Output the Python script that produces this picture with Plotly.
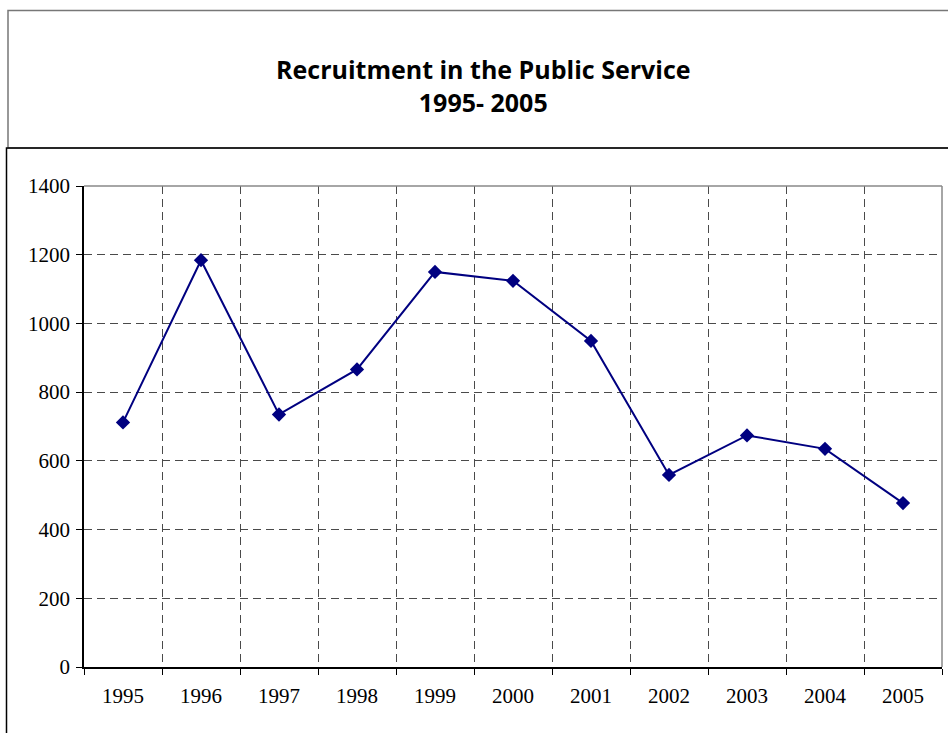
import plotly.graph_objects as go

# Recruitment figures, 1995-2005
years = ["1995", "1996", "1997", "1998", "1999", "2000",
         "2001", "2002", "2003", "2004", "2005"]
recruits = [712, 1184, 735, 866, 1150, 1124, 949, 559, 674, 635, 477]
y_ticks = [0, 200, 400, 600, 800, 1000, 1200, 1400]

W, H = 948, 733
L, R, T, B = 84, 6, 186, 66
PW, PH = W - L - R, H - T - B


def px(x):
    return (x - L) / PW


def py(y):
    return 1 - (y - T) / PH


fig = go.Figure(go.Scatter(
    x=years, y=recruits, mode="lines+markers",
    line=dict(color="#000080", width=2),
    marker=dict(symbol="diamond", size=11, color="#000080"),
    showlegend=False,
))

serif = "Liberation Serif"
grid = dict(showgrid=True, gridcolor="#4a4a4a", gridwidth=1, griddash="8px,5px")

fig.update_xaxes(
    type="category", range=[-0.5, len(years) - 0.5],
    tickson="boundaries", ticks="outside", ticklen=6,
    tickcolor="#000", showline=True, linecolor="#000", linewidth=1.5,
    tickfont=dict(family=serif, size=21, color="#000"),
    ticklabelstandoff=9, **grid,
)
fig.update_yaxes(
    range=[0, 1400], tickvals=y_ticks, ticks="outside", ticklen=6,
    tickcolor="#000", showline=True, linecolor="#000", linewidth=1.5,
    zeroline=False, tickfont=dict(family=serif, size=21, color="#000"),
    ticklabelstandoff=2, **grid,
)

shapes = [
    # title frame
    dict(type="rect", xref="paper", yref="paper",
         x0=px(8), x1=px(952), y0=py(148), y1=py(10.5),
         line=dict(color="#777777", width=1.5)),
    # chart frame
    dict(type="rect", xref="paper", yref="paper",
         x0=px(6.5), x1=px(952), y0=py(740), y1=py(148),
         line=dict(color="#000000", width=1.5)),
    # plot area top and right edges
    dict(type="line", xref="paper", yref="paper", x0=0, x1=1, y0=1, y1=1,
         line=dict(color="#888888", width=1.5), layer="above"),
    dict(type="line", xref="paper", yref="paper", x0=1, x1=1, y0=0, y1=1,
         line=dict(color="#888888", width=1.5), layer="above"),
]

fig.update_layout(
    width=W, height=H,
    margin=dict(l=L, r=R, t=T, b=B),
    paper_bgcolor="white", plot_bgcolor="white",
    shapes=shapes,
    annotations=[dict(
        text="<b>Recruitment in the Public Service<br>1995- 2005</b>",
        xref="paper", yref="paper", x=px(483), y=py(85),
        xanchor="center", yanchor="middle", showarrow=False,
        font=dict(family="Open Sans", size=25, color="#000"),
    )],
)

fig.write_html("out.html")
